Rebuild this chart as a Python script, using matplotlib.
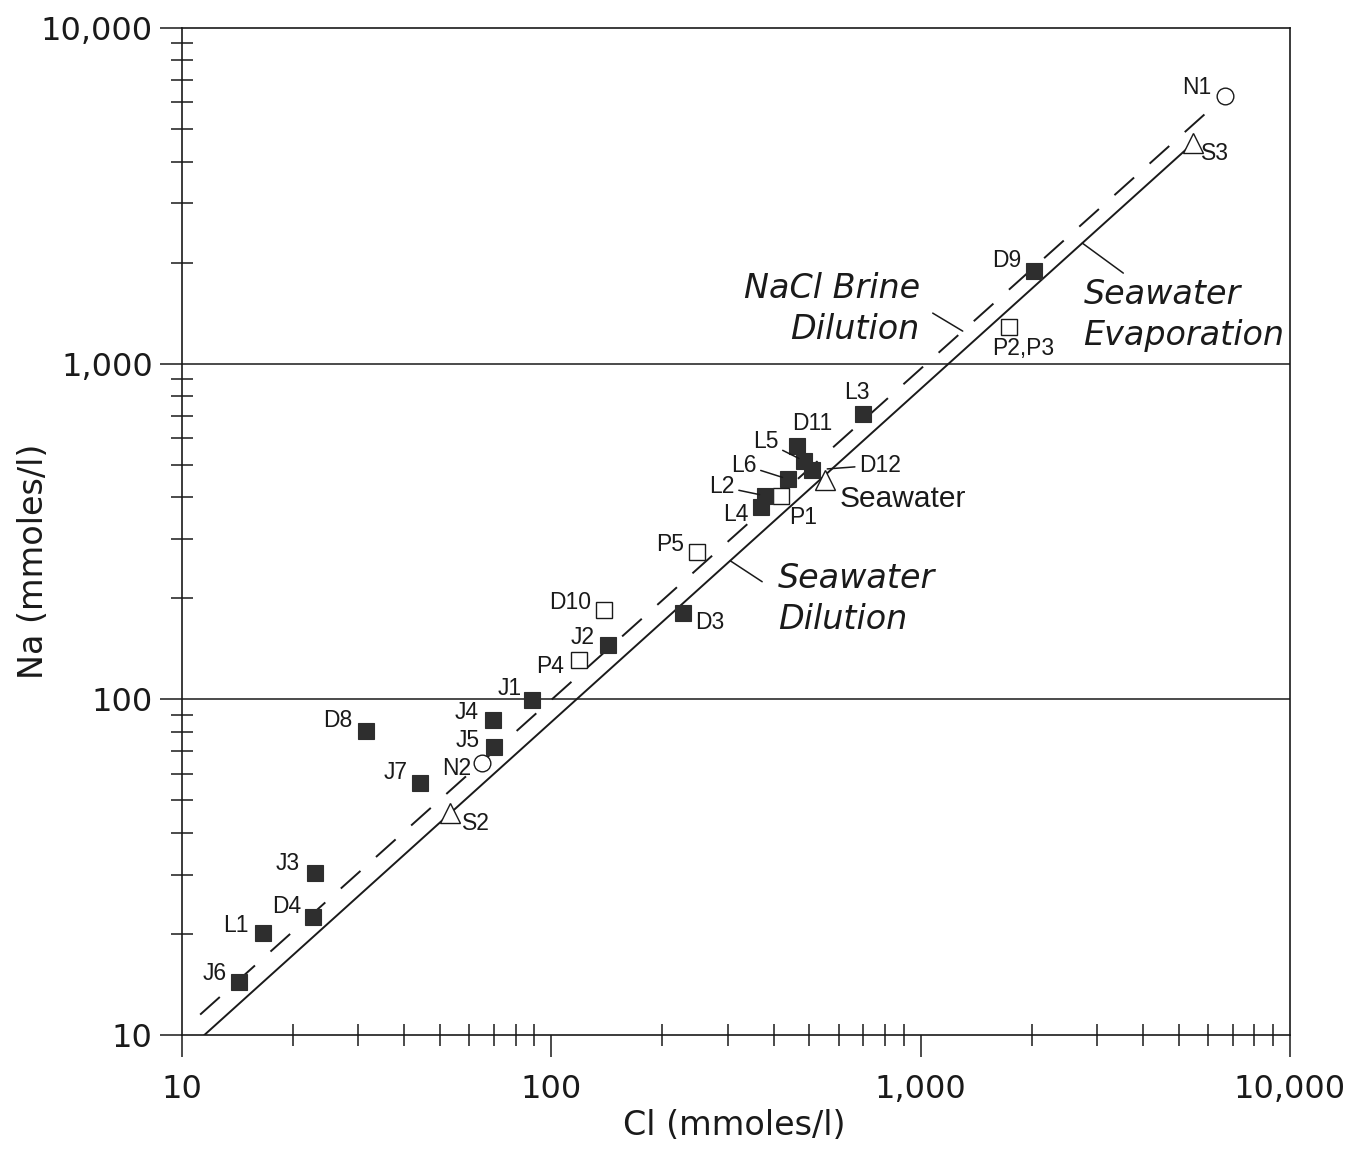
import numpy as np
import matplotlib
matplotlib.use("Agg")
from matplotlib import pyplot as plt
from matplotlib.ticker import LogLocator, FuncFormatter, NullFormatter

plt.rcParams["lines.scale_dashes"] = False

# sample chemistry, mmoles/l
names = ["N1", "S3", "D9", "P2,P3", "L3", "D11", "L5", "D12", "L6", "P1",
         "L2", "L4", "Seawater", "P5", "D10", "D3", "J2", "P4", "J1", "J4",
         "J5", "N2", "J7", "D8", "S2", "J3", "D4", "L1", "J6"]
cl = [6670, 5470, 2030, 1740, 700, 463, 483, 508, 437, 419,
      379, 370, 551, 248, 139, 227, 142, 119, 88.7, 69.5,
      70, 65, 44, 31.5, 53.2, 22.9, 22.6, 16.6, 14.3]
na = [6270, 4540, 1890, 1290, 710, 569, 513, 482, 453, 404,
      404, 374, 450, 275, 185, 181, 145, 131, 99.6, 86.8,
      72, 64.6, 56.4, 80.5, 45.9, 30.4, 22.5, 20.1, 14.4]
kind = ["circle", "triangle", "filled", "open", "filled", "filled", "filled",
        "filled", "filled", "open", "filled", "filled", "triangle", "open",
        "open", "filled", "filled", "open", "filled", "filled", "filled",
        "circle", "filled", "filled", "triangle", "filled", "filled",
        "filled", "filled"]

# reference lines (end points)
sw_cl = [11.5, 5470]
sw_na = [10, 4540]
brine_cl = [11.2, 6670]
brine_na = [11.5, 6270]

grid_levels = [100, 1000]

# label offsets in pixels (dx right, dy down) from the point
label_off = {
    "N1": (-28, -9), "S3": (22, 10), "D9": (-27, -10), "P2,P3": (14, 22),
    "L3": (-7, -21), "D11": (15, -22), "L5": (-38, -19), "L6": (-44, -14),
    "D12": (68, -5), "L2": (-43, -9), "Seawater": (78, 19), "L4": (-25, 7),
    "P1": (22, 22), "P5": (-27, -7), "D10": (-34, -7), "D3": (27, 10),
    "J2": (-25, -8), "P4": (-29, 7), "J1": (-22, -11), "J4": (-26, -7),
    "J5": (-26, -7), "N2": (-26, 5), "D8": (-28, -10), "J7": (-24, -10),
    "S2": (26, 11), "J3": (-27, -9), "D4": (-26, -10), "L1": (-27, -8),
    "J6": (-25, -8),
}
leader = {"L5": 4, "L6": 4, "L2": 4, "D12": 11}

PX = 0.72  # points per pixel at 100 dpi
INK = "#1a1a1a"


def on_line(x, xs, ys):
    return 10 ** np.interp(np.log10(x), np.log10(xs), np.log10(ys))


def off(dx, dy):
    return (dx * PX, -dy * PX)


fig = plt.figure(figsize=(13.58, 11.51), dpi=100)
ax = fig.add_axes([0.134, 0.1008, 0.8159, 0.8749])
ax.set_xscale("log")
ax.set_yscale("log")
ax.set_xlim(10, 10000)
ax.set_ylim(10, 10000)

for lev in grid_levels:
    ax.axhline(lev, color=INK, lw=1.1, zorder=1)

ax.plot(sw_cl, sw_na, "-", color=INK, lw=1.4, zorder=2)
ax.plot(brine_cl, brine_na, color=INK, lw=1.4, dashes=(19, 15), zorder=2)

styles = {
    "filled": dict(marker="s", ms=11, mfc="#2e2e2e", mec="#2e2e2e", mew=0.8),
    "open": dict(marker="s", ms=11, mfc="white", mec=INK, mew=1.0),
    "circle": dict(marker="o", ms=12, mfc="white", mec=INK, mew=1.0),
    "triangle": dict(marker="^", ms=14, mfc="white", mec=INK, mew=1.0),
}
for x, y, k in zip(cl, na, kind):
    ax.plot(x, y, ls="none", zorder=4, **styles[k])

for name, x, y in zip(names, cl, na):
    dx, dy = label_off[name]
    size = 21.5 if name == "Seawater" else 16.5
    kw = dict(textcoords="offset points", ha="center", va="center",
              fontsize=size, family="Liberation Sans", color=INK, zorder=5)
    if name in leader:
        kw["arrowprops"] = dict(arrowstyle="-", color=INK, lw=1.1,
                                shrinkA=1, shrinkB=leader[name])
    ax.annotate(name, (x, y), xytext=off(dx, dy), **kw)

# curve labels
curve_labels = [
    ("Seawater\nEvaporation", sw_cl, sw_na, 2740, (41, 30), (1, 72), "left"),
    ("NaCl Brine\nDilution", brine_cl, brine_na, 1300, (-30, -18), (-43, -22), "right"),
    ("Seawater\nDilution", sw_cl, sw_na, 305, (32, 21), (48, 38), "left"),
]
for text, xs, ys, x0, lead, pos, ha in curve_labels:
    y0 = on_line(x0, xs, ys)
    ax.annotate("", (x0, y0), xytext=off(*lead), textcoords="offset points",
                arrowprops=dict(arrowstyle="-", color=INK, lw=1.1, shrinkA=0, shrinkB=0))
    ax.annotate(text, (x0, y0), xytext=off(*pos), textcoords="offset points",
                ha=ha, va="center", fontsize=24, style="italic",
                linespacing=1.32, color=INK)

for axis in (ax.xaxis, ax.yaxis):
    axis.set_major_locator(LogLocator(base=10))
    axis.set_minor_locator(LogLocator(base=10, subs=np.arange(2, 10)))
    axis.set_major_formatter(FuncFormatter(lambda v, p: f"{v:,.0f}"))
    axis.set_minor_formatter(NullFormatter())

ax.tick_params(which="major", direction="out", length=16, width=1.1,
               labelsize=23, colors=INK, top=False, right=False)
ax.tick_params(axis="x", which="major", pad=12)
ax.tick_params(axis="y", which="major", pad=5)
ax.tick_params(which="minor", direction="inout", length=16, width=1.1,
               colors=INK, top=False, right=False)
for s in ax.spines.values():
    s.set_linewidth(1.2)
    s.set_color(INK)

ax.set_xlabel("Cl (mmoles/l)", fontsize=24, color=INK)
ax.set_ylabel("Na (mmoles/l)", fontsize=24, color=INK)
ax.xaxis.set_label_coords(0.498, -0.074)
ax.yaxis.set_label_coords(-0.119, 0.47)

fig.savefig("out.png", dpi=100)
